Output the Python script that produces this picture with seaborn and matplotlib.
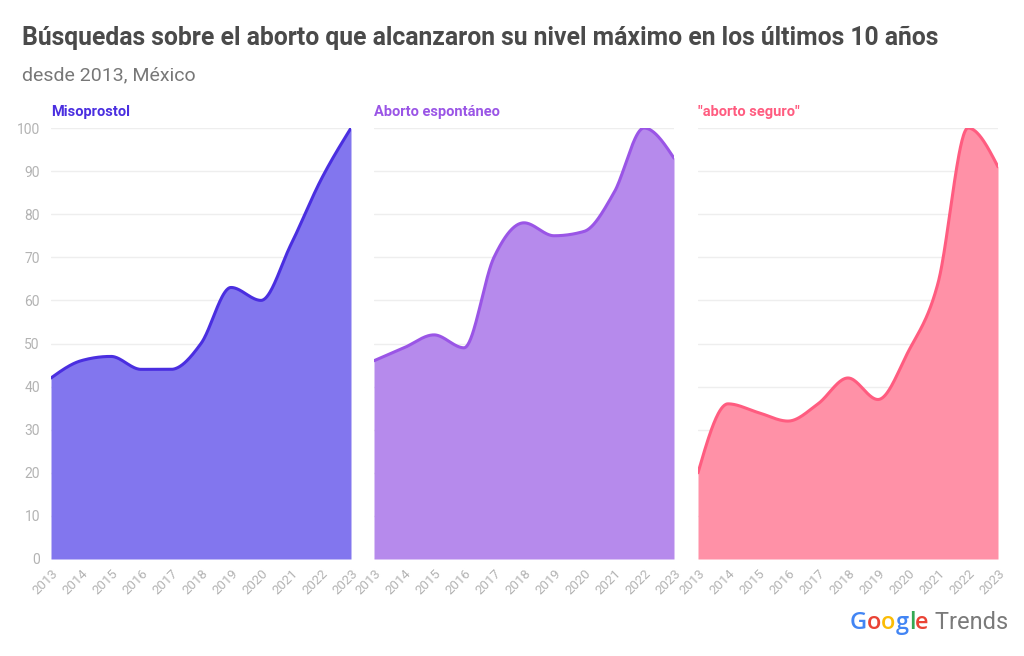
import numpy as np
import pandas as pd
import seaborn as sns
import matplotlib.pyplot as plt
from matplotlib.offsetbox import TextArea, HPacker, AnchoredOffsetbox

years = list(range(2013, 2024))

misoprostol = [42, 46, 47, 44, 44, 50, 63, 60, 73, 88, 100]
espontaneo = [46, 49, 52, 49, 70, 78, 75, 76, 85, 100, 93]
seguro = [20, 36, 34, 32, 36, 42, 37, 48, 64, 100, 91]

series_names = ["Misoprostol", "Aborto espontáneo", '"aborto seguro"']
line_colors = ["#4a2ee0", "#9a55e6", "#ff5c80"]
fill_colors = ["#8276ee", "#b68aec", "#ff91a7"]

y_ticks = list(range(0, 101, 10))


def monotone_curve(x, y, n=40):
    # curva monótona (como d3.curveMonotoneX) solo para dibujar
    x = np.asarray(x, float)
    y = np.asarray(y, float)
    h = np.diff(x)
    d = np.diff(y) / h
    m = np.zeros_like(y)
    for i in range(1, len(y) - 1):
        if d[i - 1] * d[i] <= 0:
            m[i] = 0
        else:
            p = (d[i - 1] * h[i] + d[i] * h[i - 1]) / (h[i - 1] + h[i])
            m[i] = np.sign(d[i - 1]) * min(2 * abs(d[i - 1]), 2 * abs(d[i]), abs(p))
    m[0] = (3 * d[0] - m[1]) / 2
    m[-1] = (3 * d[-1] - m[-2]) / 2
    xs, ys = [], []
    for i in range(len(h)):
        t = np.linspace(0, 1, n, endpoint=False)
        h00 = 2 * t**3 - 3 * t**2 + 1
        h10 = t**3 - 2 * t**2 + t
        h01 = -2 * t**3 + 3 * t**2
        h11 = t**3 - t**2
        xs.append(x[i] + t * h[i])
        ys.append(h00 * y[i] + h10 * h[i] * m[i] + h01 * y[i + 1] + h11 * h[i] * m[i + 1])
    xs.append([x[-1]])
    ys.append([y[-1]])
    return np.concatenate(xs), np.concatenate(ys)


sns.set_theme(style="white")
plt.rcParams['font.family'] = ['Roboto', 'DejaVu Sans']

fig = plt.figure(figsize=(10.24, 6.56), dpi=100)
fig.patch.set_facecolor("white")

lefts = [51, 374, 698]
W, H = 1024, 656
values = [misoprostol, espontaneo, seguro]

for k in range(3):
    ax = fig.add_axes([lefts[k] / W, (H - 559) / H, 300 / W, 431 / H])
    xs, ys = monotone_curve(years, values[k])
    curve = pd.DataFrame({"year": xs, "value": ys})
    ax.fill_between(curve["year"], 0, curve["value"], color=fill_colors[k], lw=0, zorder=2)
    sns.lineplot(data=curve, x="year", y="value", ax=ax, color=line_colors[k],
                 lw=2.2, zorder=3, sort=False)
    ax.set_xlim(2013, 2023)
    ax.set_ylim(0, 100)
    ax.set_xlabel("")
    ax.set_ylabel("")
    ax.set_yticks(y_ticks)
    ax.yaxis.grid(True, color="#eeeeee", lw=1, zorder=0)
    ax.set_axisbelow(True)
    for s in ax.spines.values():
        s.set_visible(False)
    ax.set_xticks(years)
    ax.set_xticklabels([str(y) for y in years], rotation=45, ha="right",
                       rotation_mode="anchor", fontsize=9.5, color="#b3b3b3")
    ax.tick_params(axis="x", length=4, color="#dddddd", pad=2)
    if k == 0:
        ax.tick_params(axis="y", length=6, color="#e6e6e6", labelsize=10,
                       labelcolor="#b3b3b3", pad=2)
    else:
        ax.tick_params(axis="y", length=0, labelleft=False)
    ax.text(0, 1.027, series_names[k], transform=ax.transAxes, fontsize=10.5,
            fontweight="bold", color=line_colors[k], ha="left", va="baseline")

fig.text(22 / W, 1 - 38 / H, "Búsquedas sobre el aborto que alcanzaron su nivel máximo en los últimos 10 años",
         fontsize=17.8, fontweight="bold", color="#4a4a4a", ha="left", va="center")
fig.text(22 / W, 1 - 75 / H, "desde 2013, México", fontsize=14, color="#777777",
         ha="left", va="center")

# logo Google Trends
logo_colors = ["#4285F4", "#EA4335", "#FBBC05", "#4285F4", "#34A853", "#EA4335"]
parts = [TextArea(ch, textprops=dict(color=c, fontsize=17, family="Open Sans",
                                     fontweight="semibold"))
         for ch, c in zip("Google", logo_colors)]
parts.append(TextArea(" Trends", textprops=dict(color="#7a7a7a", fontsize=17, family="Roboto")))
box = HPacker(children=parts, pad=0, sep=0, align="baseline")
anchored = AnchoredOffsetbox(loc="center right", child=box, frameon=False,
                             bbox_to_anchor=(1008 / W, 1 - 623 / H),
                             bbox_transform=fig.transFigure, borderpad=0, pad=0)
fig.add_artist(anchored)

fig.savefig("out.png", dpi=100, facecolor="white")
